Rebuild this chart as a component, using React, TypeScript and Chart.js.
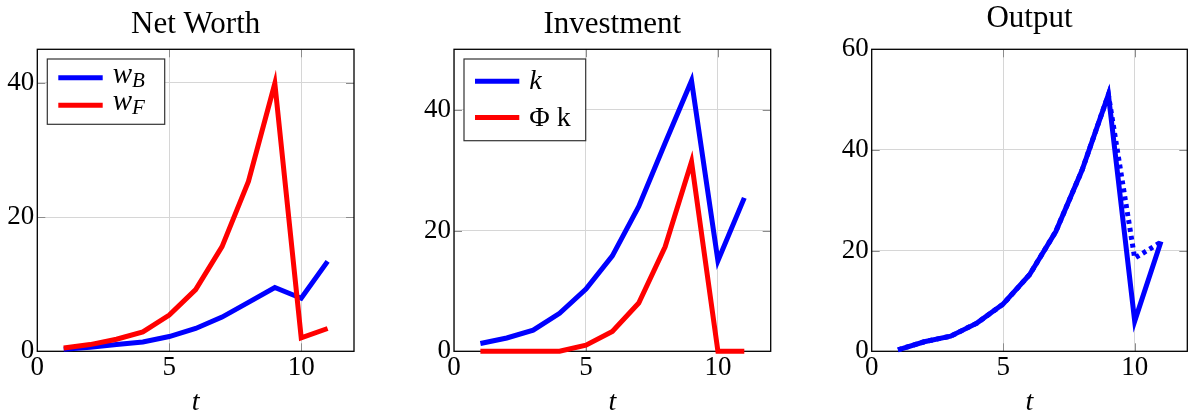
import React, { useEffect, useRef } from "react";
import { Chart, registerables } from "chart.js";

Chart.register(...registerables);

// ---------- data ----------
const tValues = [1, 2, 3, 4, 5, 6, 7, 8, 9, 10, 11];
const wB = [0.3, 0.6, 1.0, 1.4, 2.2, 3.4, 5.1, 7.3, 9.5, 7.9, 13.4];
const wF = [0.5, 1.0, 1.8, 2.9, 5.4, 9.2, 15.6, 25.3, 39.9, 2.0, 3.4];
const kVals = [1.3, 2.2, 3.5, 6.3, 10.3, 15.8, 24.0, 34.5, 44.8, 15.0, 25.4];
const phiK = [0, 0, 0, 0, 1.0, 3.3, 8.0, 17.3, 31.4, 0, 0];
const outputSolid = [0.3, 1.9, 3.0, 5.6, 9.4, 15.2, 23.8, 36.0, 51.0, 6.0, 21.8];
const outputDotted = [0.3, 1.9, 3.0, 5.6, 9.4, 15.2, 23.8, 36.0, 51.0, 18.5, 21.7];

const xTicks = [0, 5, 10];
const yTicksNetWorth = [0, 20, 40];
const yTicksInvestment = [0, 20, 40];
const yTicksOutput = [0, 20, 40, 60];
const titles = ["Net Worth", "Investment", "Output"];
const xAxisLabel = "t";

const BLUE = "#0000ff";
const RED = "#ff0000";
const FAMILY = "Liberation Serif";
const FONT = "'Liberation Serif', serif";

Chart.defaults.font.family = FAMILY;

const pts = (vals: number[]) => tValues.map((x, i) => ({ x, y: vals[i] }));

type Part = { text: string; italic?: boolean; size: number; dy?: number };
type LegendItem = { color: string; y: number; base: number; parts: Part[] };
type LegendCfg = {
  x: number; y: number; w: number; h: number;
  lineX0: number; lineX1: number; textX: number;
  items: LegendItem[];
};

const decorPlugin = {
  id: "decor",
  beforeDatasetsDraw(chart: any, _args: any, opts: any) {
    const { ctx, chartArea: a, scales } = chart;
    ctx.save();
    ctx.strokeStyle = "#8c8c8c";
    ctx.lineWidth = 1;
    const tl = 8;
    ctx.beginPath();
    for (const v of opts.xTicks) {
      const px = Math.round(scales.x.getPixelForValue(v)) + 0.5;
      if (px <= a.left + 2 || px >= a.right - 2) continue;
      ctx.moveTo(px, a.bottom); ctx.lineTo(px, a.bottom - tl);
      ctx.moveTo(px, a.top); ctx.lineTo(px, a.top + tl);
    }
    for (const v of opts.yTicks) {
      const py = Math.round(scales.y.getPixelForValue(v)) + 0.5;
      if (py <= a.top + 2 || py >= a.bottom - 2) continue;
      ctx.moveTo(a.left, py); ctx.lineTo(a.left + tl, py);
      ctx.moveTo(a.right, py); ctx.lineTo(a.right - tl, py);
    }
    ctx.stroke();
    ctx.strokeStyle = "#000";
    ctx.lineWidth = 1.3;
    ctx.strokeRect(a.left, a.top, a.right - a.left, a.bottom - a.top);
    ctx.restore();
  },
  afterDraw(chart: any, _args: any, opts: any) {
    const { ctx, chartArea: a } = chart;
    const cx = (a.left + a.right) / 2;
    ctx.save();
    ctx.fillStyle = "#000";
    ctx.textAlign = "center";
    ctx.textBaseline = "alphabetic";
    ctx.font = `31px ${FONT}`;
    ctx.fillText(opts.title, cx, opts.titleBaseline);
    ctx.font = `italic 28px ${FONT}`;
    ctx.fillText(opts.xLabel, cx, 410);

    const lg: LegendCfg | null = opts.legend;
    if (lg) {
      const bx = a.left + lg.x, by = a.top + lg.y;
      ctx.fillStyle = "#fff";
      ctx.fillRect(bx, by, lg.w, lg.h);
      ctx.strokeStyle = "#333";
      ctx.lineWidth = 1.2;
      ctx.strokeRect(bx, by, lg.w, lg.h);
      for (const it of lg.items) {
        const ly = a.top + it.y;
        ctx.strokeStyle = it.color;
        ctx.lineWidth = 5;
        ctx.lineCap = "butt";
        ctx.beginPath();
        ctx.moveTo(a.left + lg.lineX0, ly);
        ctx.lineTo(a.left + lg.lineX1, ly);
        ctx.stroke();
        let tx = a.left + lg.textX;
        ctx.fillStyle = "#000";
        ctx.textAlign = "left";
        for (const p of it.parts) {
          ctx.font = `${p.italic ? "italic " : ""}${p.size}px ${FONT}`;
          ctx.fillText(p.text, tx, ly + it.base + (p.dy || 0));
          tx += ctx.measureText(p.text).width;
        }
      }
    }
    ctx.restore();
  },
};

type PanelCfg = {
  left: number; width: number; yAxisWidth: number; padRight: number;
  yMax: number; yTicks: number[]; title: string; titleBaseline: number;
  datasets: any[]; legend: LegendCfg | null;
};

const lineDs = (vals: number[], color: string, order: number, dash: number[] = []) => ({
  data: pts(vals),
  borderColor: color,
  backgroundColor: color,
  borderWidth: 5,
  borderDash: dash,
  borderCapStyle: "butt",
  borderJoinStyle: "miter",
  pointRadius: 0,
  tension: 0,
  fill: false,
  clip: false,
  order,
});

const panels: PanelCfg[] = [
  {
    left: 0, width: 360, yAxisWidth: 37.3, padRight: 6,
    yMax: 45, yTicks: yTicksNetWorth, title: titles[0], titleBaseline: 32.5,
    datasets: [lineDs(wB, BLUE, 2), lineDs(wF, RED, 1)],
    legend: {
      x: 10, y: 9.7, w: 117.4, h: 65.3, lineX0: 21, lineX1: 65.4, textX: 75.4,
      items: [
        { color: BLUE, y: 28.4, base: 5.5, parts: [{ text: "w", italic: true, size: 29 }, { text: "B", italic: true, size: 21, dy: 4 }] },
        { color: RED, y: 56, base: 5, parts: [{ text: "w", italic: true, size: 29 }, { text: "F", italic: true, size: 21, dy: 4 }] },
      ],
    },
  },
  {
    left: 400, width: 375, yAxisWidth: 54, padRight: 4.3,
    yMax: 50, yTicks: yTicksInvestment, title: titles[1], titleBaseline: 32.5,
    datasets: [lineDs(kVals, BLUE, 2), lineDs(phiK, RED, 1)],
    legend: {
      x: 10, y: 9.7, w: 121.7, h: 81.7, lineX0: 21, lineX1: 65.3, textX: 75.3,
      items: [
        { color: BLUE, y: 32, base: 8, parts: [{ text: "k", italic: true, size: 28 }] },
        { color: RED, y: 68.3, base: 8.5, parts: [{ text: "Φ k", size: 28 }] },
      ],
    },
  },
  {
    left: 800, width: 392, yAxisWidth: 71.7, padRight: 4.7,
    yMax: 60, yTicks: yTicksOutput, title: titles[2], titleBaseline: 26.5,
    datasets: [lineDs(outputSolid, BLUE, 1), lineDs(outputDotted, BLUE, 2, [4, 4])],
    legend: null,
  },
];

const tickFont = { family: FAMILY, size: 27, style: "normal", weight: "normal" };

function Panel({ cfg }: { cfg: PanelCfg }) {
  const ref = useRef<HTMLCanvasElement | null>(null);
  useEffect(() => {
    if (!ref.current) return;
    const chart = new Chart(ref.current, {
      type: "line",
      data: { datasets: cfg.datasets },
      plugins: [decorPlugin as any],
      options: {
        animation: false,
        responsive: false,
        devicePixelRatio: 1,
        font: { family: FAMILY },
        layout: { padding: { top: 49.3, left: 0, right: cfg.padRight, bottom: 0 } },
        plugins: {
          legend: { display: false },
          title: { display: false },
          tooltip: { enabled: false },
          decor: {
            xTicks, yTicks: cfg.yTicks, title: cfg.title,
            titleBaseline: cfg.titleBaseline, xLabel: xAxisLabel, legend: cfg.legend,
          },
        } as any,
        scales: {
          x: {
            type: "linear",
            min: 0, max: 12,
            afterBuildTicks: (s: any) => { s.ticks = xTicks.map((v) => ({ value: v })); },
            afterFit: (s: any) => { s.height = 414 - 351.3; },
            grid: { color: "#d6d6d6", lineWidth: 1, drawTicks: false },
            border: { display: false },
            ticks: { color: "#000", font: tickFont, padding: 0, autoSkip: false, maxRotation: 0 },
          },
          y: {
            type: "linear",
            min: 0, max: cfg.yMax,
            afterBuildTicks: (s: any) => { s.ticks = cfg.yTicks.map((v) => ({ value: v })); },
            afterFit: (s: any) => { s.width = cfg.yAxisWidth; },
            grid: { color: "#d6d6d6", lineWidth: 1, drawTicks: false },
            border: { display: false },
            ticks: { color: "#000", font: tickFont, padding: 3, autoSkip: false },
          },
        },
      } as any,
    });
    return () => chart.destroy();
  }, [cfg]);
  return (
    <canvas
      ref={ref}
      width={cfg.width}
      height={414}
      style={{ position: "absolute", left: cfg.left, top: 0, width: cfg.width, height: 414 }}
    />
  );
}

export default function App() {
  return (
    <div style={{ position: "absolute", left: 0, top: 0, width: 1192, height: 414, background: "#fff", overflow: "hidden" }}>
      {panels.map((p, i) => (
        <Panel key={i} cfg={p} />
      ))}
    </div>
  );
}
